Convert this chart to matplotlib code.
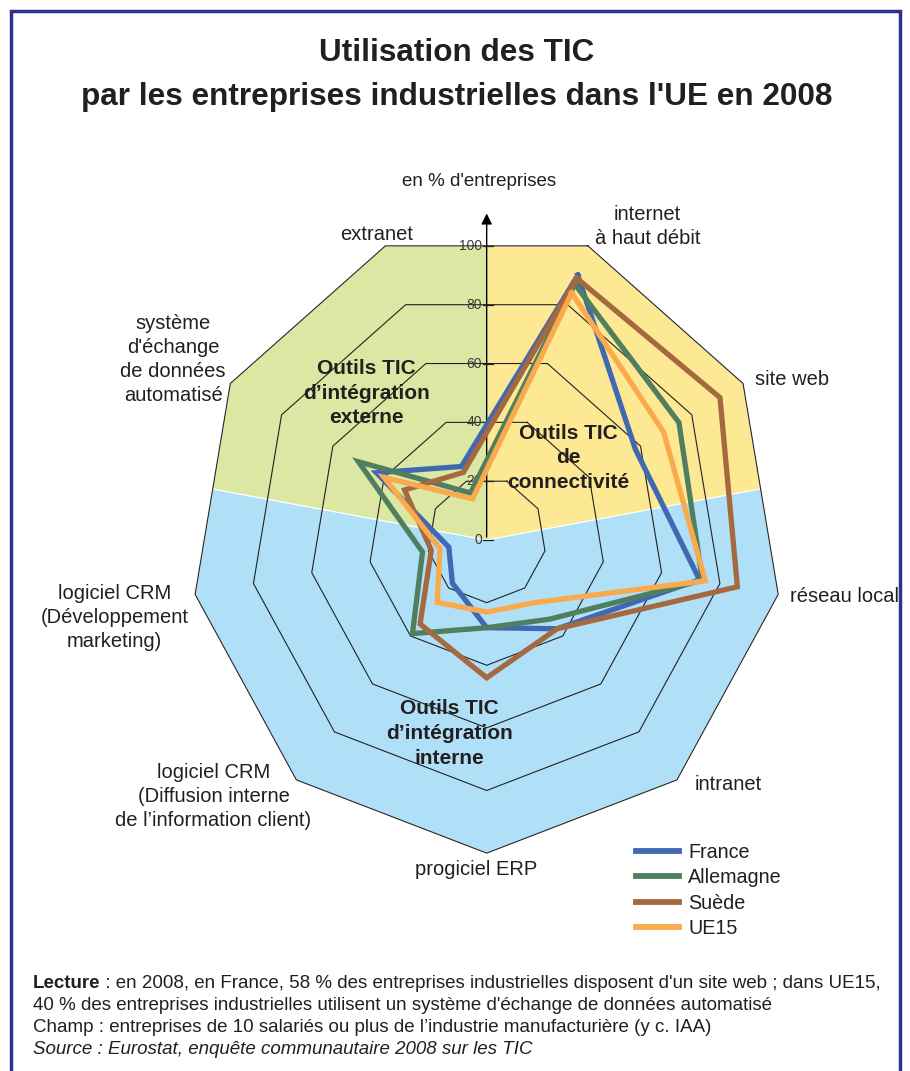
import numpy as np
import matplotlib
matplotlib.use('Agg')
import matplotlib.pyplot as plt
from matplotlib.patches import Polygon, Rectangle
from matplotlib.lines import Line2D

plt.rcParams['font.family'] = ['Liberation Sans', 'DejaVu Sans']

# categories, clockwise starting at 20 degrees from the vertical axis
categories = ["internet\nà haut débit", "site web", "réseau local", "intranet",
              "progiciel ERP",
              "logiciel CRM\n(Diffusion interne\nde l’information client)",
              "logiciel CRM\n(Développement\nmarketing)",
              "système\nd'échange\nde données\nautomatisé", "extranet"]
france = [90, 58, 73, 37, 28, 18, 13, 43, 25]
allemagne = [87, 75, 74, 33, 28, 39, 22, 50, 16]
suede = [89, 91, 86, 37, 44, 35, 19, 32, 23]
ue15 = [84, 69, 75, 26, 23, 26, 16, 40, 14]
series_names = ["France", "Allemagne", "Suède", "UE15"]
ticks = [0, 20, 40, 60, 80, 100]
groups = ["Outils TIC\nd’intégration\nexterne", "Outils TIC\nde\nconnectivité",
          "Outils TIC\nd’intégration\ninterne"]

colors = ["#4168b3", "#4f7f5e", "#a4693f", "#faa94d"]
txt = "#231f20"

# label anchors (data units)
label_pos = [(54.4, 100.2), (103, 51.3), (120.8, -18.1), (81.6, -78.1), (-3.4, -105.3),
             (-92.3, -82.0), (-125.7, -24.7), (-105.9, 57.6), (-37.2, 97.6)]
group_pos = [(-40.5, 46.9), (27.7, 26.3), (-12.5, -61.8)]

W, H = 910, 1071
fig = plt.figure(figsize=(W / 100, H / 100), dpi=100)
ax = fig.add_axes([0, 0, 1, 1])
ax.set_xlim(-164.4, 143.0)
ax.set_ylim(-169.6, 172.5)
ax.axis('off')

ang = np.deg2rad(20 + 40 * np.arange(len(categories)))


def pt(r, a):
    return r * np.sin(a), r * np.cos(a)


edge_r = 100 * np.cos(np.deg2rad(20))
top = pt(edge_r, 0.0)
mid80 = pt(edge_r, np.deg2rad(80))
mid280 = pt(edge_r, np.deg2rad(280))
v = [pt(100, a) for a in ang]

regions = [
    ([(0, 0), top, v[0], v[1], mid80], "#fde894"),
    ([(0, 0), mid80, v[2], v[3], v[4], v[5], v[6], mid280], "#b0e0f8"),
    ([(0, 0), mid280, v[7], v[8], top], "#dbe7a2"),
]
for pts, c in regions:
    ax.add_patch(Polygon(pts, closed=True, facecolor=c, edgecolor='white', lw=0.8, zorder=1))

# nonagon grid
for t in ticks[1:]:
    gx, gy = pt(t, np.append(ang, ang[0]))
    ax.plot(gx, gy, color='#222222', lw=0.8, zorder=2)

# vertical value axis with arrow
ax.annotate('', xy=(0, 105.2), xytext=(0, 0),
            arrowprops=dict(arrowstyle='-|>', color='black', lw=1.0, mutation_scale=16),
            zorder=3)
for t in ticks:
    yy = t * np.cos(np.deg2rad(20))
    ax.plot([-1.3, 2.2], [yy, yy], color='#222222', lw=0.9, zorder=3)
    ax.text(-1.6, yy, str(t), ha='right', va='center', fontsize=10, color='#3a3a3a', zorder=3)
ax.text(-2.7, 114.4, "en % d'entreprises", ha='center', va='center', fontsize=13.5, color=txt)

# series
for vals, name, c in zip([france, allemagne, suede, ue15], series_names, colors):
    vals = np.array(vals + vals[:1], dtype=float)
    sx, sy = pt(vals, np.append(ang, ang[0]))
    ax.plot(sx, sy, color=c, lw=3.8, solid_joinstyle='miter', zorder=4, label=name)

# category labels
for lab, (lx, ly) in zip(categories, label_pos):
    ax.text(lx, ly, lab, ha='center', va='center', fontsize=14.5, color=txt, linespacing=1.33)

for g, (gx, gy) in zip(groups, group_pos):
    ax.text(gx, gy, g, ha='center', va='center', fontsize=15, fontweight='bold',
            color=txt, linespacing=1.38, zorder=6)

handles = [Line2D([], [], color=c, lw=4.2) for c in colors]
fig.legend(handles, series_names, loc='upper left', bbox_to_anchor=(636 / W, 1 - 843 / H),
           frameon=False, fontsize=14.2, handlelength=2.2, handletextpad=0.45,
           labelspacing=0.32, borderpad=0, borderaxespad=0, labelcolor=txt)

# title
fig.text(457 / W, 1 - 75 / H, "Utilisation des TIC\npar les entreprises industrielles dans l'UE en 2008",
         ha='center', va='center', fontsize=22.7, fontweight='bold', color=txt, linespacing=1.6)

# notes
lec = fig.text(33 / W, 1 - 983 / H, "Lecture", ha='left', va='center', fontsize=13.5,
               fontweight='bold', color=txt)
plt.annotate(" : en 2008, en France, 58 % des entreprises industrielles disposent d'un site web ; dans UE15,",
             xy=(1, 0), xycoords=lec, ha='left', va='bottom', fontsize=13.5, color=txt)
fig.text(33 / W, 1 - 1005 / H,
         "40 % des entreprises industrielles utilisent un système d'échange de données automatisé",
         ha='left', va='center', fontsize=13.5, color=txt)
fig.text(33 / W, 1 - 1027 / H,
         "Champ : entreprises de 10 salariés ou plus de l’industrie manufacturière (y c. IAA)",
         ha='left', va='center', fontsize=13.5, color=txt)
fig.text(33 / W, 1 - 1049 / H, "Source : Eurostat, enquête communautaire 2008 sur les TIC",
         ha='left', va='center', fontsize=13.5, style='italic', color=txt)

# page frame
fig.patches.append(Rectangle((11 / W, -0.01), 889 / W, 1.0 - 11 / H + 0.01,
                             transform=fig.transFigure, fill=False, edgecolor='#2e3192', lw=2.5))

fig.savefig('out.png', dpi=100)
